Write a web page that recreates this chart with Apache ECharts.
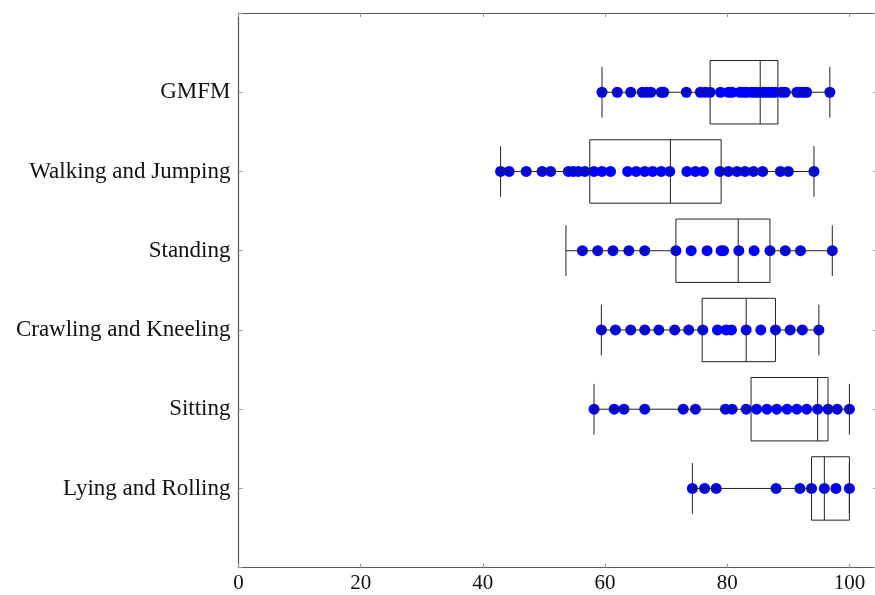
<!DOCTYPE html>
<html>
<head>
<meta charset="utf-8">
<script src="https://cdn.jsdelivr.net/npm/echarts@6/dist/echarts.min.js"></script>
<style>
  html, body { margin: 0; padding: 0; background: #fff; }
  #chart { width: 875px; height: 595px; }
</style>
</head>
<body>
<div id="chart"></div>
<script>
// Domains, bottom to top on the vertical axis
const categories = ['Lying and Rolling', 'Sitting', 'Crawling and Kneeling', 'Standing', 'Walking and Jumping', 'GMFM'];

// Box statistics per domain: [min, Q1, median, Q3, max]
const lyingBox = [74.3, 93.8, 95.9, 100, 100];
const sittingBox = [58.2, 83.9, 94.8, 96.5, 100];
const crawlingBox = [59.4, 75.9, 83.1, 87.9, 95.0];
const standingBox = [53.6, 71.6, 81.8, 87.0, 97.2];
const walkingBox = [42.9, 57.5, 70.7, 79.0, 94.2];
const gmfmBox = [59.5, 77.2, 85.4, 88.3, 96.8];

// Individual scores per domain
const lyingScores = [74.3, 76.3, 78.2, 88.0, 91.9, 93.8, 95.9, 97.8, 100];
const sittingScores = [58.2, 61.5, 63.1, 66.5, 72.8, 74.8, 79.7, 80.8, 83.1, 84.8, 86.5, 88.1, 89.8, 91.4, 93.0, 94.8, 96.5, 98.0, 100];
const crawlingScores = [59.4, 61.7, 64.2, 66.5, 68.8, 71.4, 73.7, 76.0, 78.4, 79.8, 80.7, 83.1, 85.5, 87.9, 90.3, 92.3, 95.0];
const standingScores = [56.3, 58.8, 61.3, 63.9, 66.5, 71.6, 74.1, 76.7, 79.0, 79.4, 81.9, 84.4, 87.0, 89.5, 92.0, 97.2];
const walkingScores = [42.9, 44.3, 47.1, 49.7, 51.1, 54.0, 54.8, 55.6, 56.7, 58.2, 59.5, 60.9, 63.7, 65.1, 66.5, 67.8, 69.2, 70.6, 73.4, 74.8, 76.1, 78.8, 80.2, 81.6, 82.9, 84.3, 85.8, 88.7, 90.0, 94.2];
const gmfmScores = [59.5, 62.0, 64.2, 66.1, 66.8, 67.5, 69.2, 69.6, 73.3, 75.6, 76.4, 77.2, 78.9, 80.2, 80.8, 82.1, 82.7, 83.2, 84.0, 84.6, 85.1, 85.7, 86.2, 86.8, 87.3, 87.9, 88.9, 89.5, 91.4, 91.9, 92.5, 93.0, 96.8];

// X tick values
const xTicks = [0, 20, 40, 60, 80, 100];

const boxes = [lyingBox, sittingBox, crawlingBox, standingBox, walkingBox, gmfmBox];
const scores = [lyingScores, sittingScores, crawlingScores, standingScores, walkingScores, gmfmScores];

const boxData = boxes.map((b, i) => [i + 1].concat(b));
const pointData = [];
scores.forEach((list, i) => list.forEach(v => pointData.push([v, i + 1])));

const SERIF = '"Liberation Serif", "DejaVu Serif", serif';
const AXIS_COLOR = '#555';
const TICK_COLOR = '#999';

function renderBox(params, api) {
  const y = api.value(0);
  const lo = api.value(1), q1 = api.value(2), med = api.value(3), q3 = api.value(4), hi = api.value(5);
  const boxHalf = api.size([0, 0.4])[1];
  const capHalf = api.size([0, 0.32])[1];
  const pLo = api.coord([lo, y]);
  const pQ1 = api.coord([q1, y]);
  const pMed = api.coord([med, y]);
  const pQ3 = api.coord([q3, y]);
  const pHi = api.coord([hi, y]);
  const stroke = { stroke: '#222', lineWidth: 1, fill: null };
  const line = (x1, y1, x2, y2) => ({ type: 'line', shape: { x1, y1, x2, y2 }, style: stroke });
  return {
    type: 'group',
    children: [
      line(pLo[0], pLo[1], pQ1[0], pQ1[1]),
      line(pQ3[0], pQ3[1], pHi[0], pHi[1]),
      line(pLo[0], pLo[1] - capHalf, pLo[0], pLo[1] + capHalf),
      line(pHi[0], pHi[1] - capHalf, pHi[0], pHi[1] + capHalf),
      {
        type: 'rect',
        shape: { x: pQ1[0], y: pQ1[1] - boxHalf, width: pQ3[0] - pQ1[0], height: boxHalf * 2 },
        style: { stroke: '#222', lineWidth: 1, fill: null }
      },
      line(pMed[0], pMed[1] - boxHalf, pMed[0], pMed[1] + boxHalf)
    ]
  };
}

const chart = echarts.init(document.getElementById('chart'), null, { renderer: 'canvas' });

const xCommon = {
  type: 'value',
  min: 0,
  max: 104.6,
  interval: 20,
  splitLine: { show: false },
  axisLine: { show: true, onZero: false, lineStyle: { color: AXIS_COLOR, width: 1.2 } },
  axisTick: { show: true, inside: true, length: 4, lineStyle: { color: TICK_COLOR, width: 1 } }
};
const yCommon = {
  type: 'value',
  min: 0,
  max: 7,
  interval: 1,
  splitLine: { show: false },
  axisLine: { show: true, onZero: false, lineStyle: { color: AXIS_COLOR, width: 1.2 } },
  axisTick: { show: true, inside: true, length: 4, lineStyle: { color: TICK_COLOR, width: 1 } }
};

chart.setOption({
  animation: false,
  backgroundColor: '#fff',
  // the frame runs slightly past the right edge of the canvas
  grid: { left: 238.5, top: 13, width: 639, height: 554.7, containLabel: false, outerBoundsMode: 'none' },
  xAxis: [
    Object.assign({}, xCommon, {
      position: 'bottom',
      axisLabel: {
        show: true,
        margin: 5,
        color: '#111',
        fontFamily: SERIF,
        fontSize: 21,
        showMaxLabel: false,
        formatter: v => (xTicks.indexOf(v) >= 0 ? String(v) : '')
      }
    }),
    Object.assign({}, xCommon, { position: 'top', axisLabel: { show: false } })
  ],
  yAxis: [
    Object.assign({}, yCommon, {
      position: 'left',
      axisLabel: {
        show: true,
        margin: 8,
        color: '#111',
        fontFamily: SERIF,
        fontSize: 23,
        formatter: v => (v >= 1 && v <= categories.length ? categories[v - 1] : '')
      }
    }),
    Object.assign({}, yCommon, { position: 'right', axisLabel: { show: false } })
  ],
  series: [
    {
      type: 'scatter',
      xAxisIndex: 0,
      yAxisIndex: 0,
      symbol: 'circle',
      symbolSize: 11,
      itemStyle: { color: '#0000ff', opacity: 1 },
      data: pointData,
      z: 2
    },
    {
      type: 'custom',
      xAxisIndex: 0,
      yAxisIndex: 0,
      renderItem: renderBox,
      encode: { x: [1, 2, 3, 4, 5], y: 0 },
      data: boxData,
      z: 3
    }
  ]
});
</script>
</body>
</html>
